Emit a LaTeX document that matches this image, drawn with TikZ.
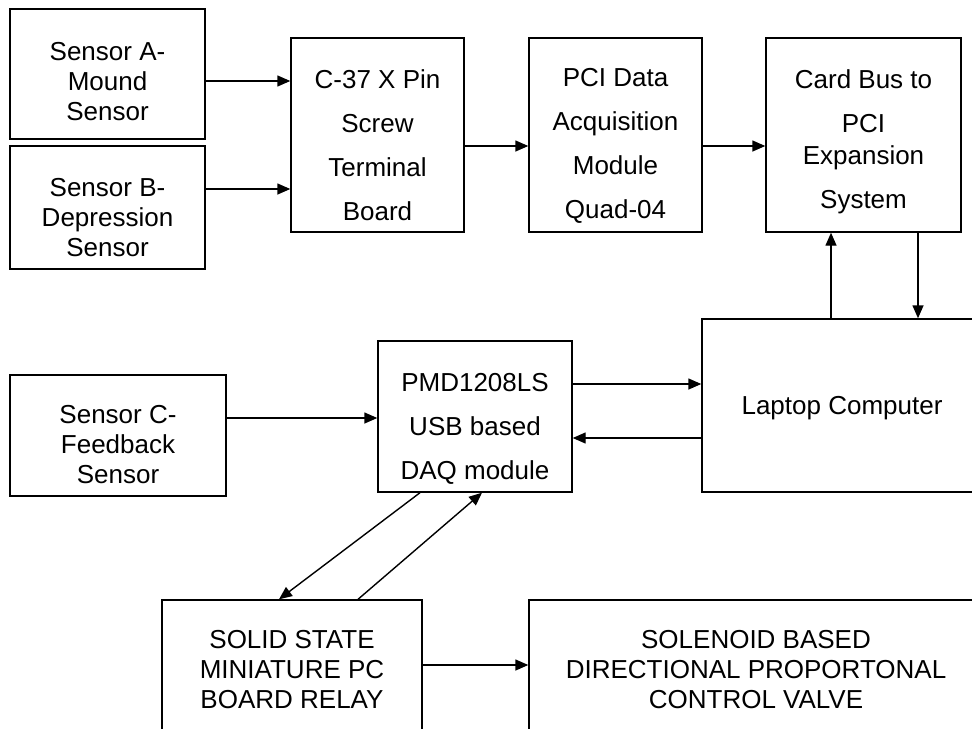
\documentclass[tikz,border=0pt]{standalone}
\usepackage{fontspec}
\setmainfont{Liberation Sans}
\usetikzlibrary{arrows.meta}

\begin{document}
\begin{tikzpicture}[x=0.5pt,y=-0.5pt, every node/.style={font=\fontsize{13}{15}\selectfont,align=center}, box/.style={draw,line width=0.7pt,inner sep=0pt}, widebox/.style={box,font=\fontsize{13}{22}\selectfont}, arr/.style={-{Triangle[length=6.5pt,width=5.5pt]},line width=0.7pt}]
  \useasboundingbox (0,0) rectangle (972,728);
  \clip (0,0) rectangle (972,728);
  % top row
  \node[box,minimum width=97.5pt,minimum height=65pt] (senA) at (107.5,74) {\rule{0pt}{16.5pt}Sensor A-\\Mound\\Sensor};
  \node[box,minimum width=97.5pt,minimum height=61.5pt] (senB) at (107.5,207.5) {\rule{0pt}{19.5pt}Sensor B-\\Depression\\Sensor};
  \node[widebox,minimum width=86.5pt,minimum height=97pt] (term) at (377.5,135) {\rule{0pt}{19.5pt}C-37 X Pin\\Screw\\Terminal\\Board};
  \node[widebox,minimum width=86.5pt,minimum height=97pt] (pci) at (615.5,135) {\rule{0pt}{20pt}PCI Data\\Acquisition\\Module\\Quad-04};
  \node[widebox,minimum width=97.5pt,minimum height=97pt] (cardbus) at (863.5,135) {\rule{0pt}{16.5pt}Card Bus to\\PCI\\[-6pt]Expansion\\System};
  % middle row
  \node[box,minimum width=108pt,minimum height=60.5pt] (senC) at (118,435.5) {\rule{0pt}{18pt}Sensor C-\\Feedback\\Sensor};
  \node[widebox,minimum width=97pt,minimum height=75.5pt] (pmd) at (475,416.5) {\rule{0pt}{21.5pt}PMD1208LS\\USB based\\DAQ module};
  \node[box,minimum width=140pt,minimum height=86.5pt] (laptop) at (842,405.5) {\rule{0pt}{12pt}Laptop Computer};
  % bottom row
  \node[box,minimum width=130pt,minimum height=70pt] (relay) at (292,670) {SOLID STATE\\MINIATURE PC\\BOARD RELAY};
  \node[box,minimum width=227pt,minimum height=70pt] (valve) at (756,670) {SOLENOID BASED\\DIRECTIONAL PROPORTONAL\\CONTROL VALVE};
  % connectors
  \draw[arr] ([yshift=-3.5pt]senA.east) -- ([yshift=-3.5pt]senA.east -| term.west);
  \draw[arr] ([yshift=9.25pt]senB.east) -- ([yshift=9.25pt]senB.east -| term.west);
  \draw[arr] ([yshift=-5.5pt]term.east) -- ([yshift=-5.5pt]pci.west);
  \draw[arr] ([yshift=-5.5pt]pci.east) -- ([yshift=-5.5pt]cardbus.west);
  \draw[arr] ([xshift=-5.5pt]laptop.north) -- ([xshift=-5.5pt]laptop.north |- cardbus.south);
  \draw[arr] ([xshift=27.25pt]cardbus.south) -- ([xshift=27.25pt]cardbus.south |- laptop.north);
  \draw[arr] ([yshift=16.25pt]pmd.east) -- ([yshift=16.25pt]pmd.east -| laptop.west);
  \draw[arr] ([yshift=-16.25pt]laptop.west) -- ([yshift=-16.25pt]laptop.west -| pmd.east);
  \draw[arr] ([yshift=8.75pt]senC.east) -- ([yshift=8.75pt]senC.east -| pmd.west);
  \draw[arr] ([xshift=-27.5pt]pmd.south) -- ([xshift=-6.5pt]relay.north);
  \draw[arr] ([xshift=33pt]relay.north) -- ([xshift=3.5pt]pmd.south);
  \draw[arr] ([yshift=2.5pt]relay.east) -- ([yshift=2.5pt]valve.west);
\end{tikzpicture}
\end{document}
